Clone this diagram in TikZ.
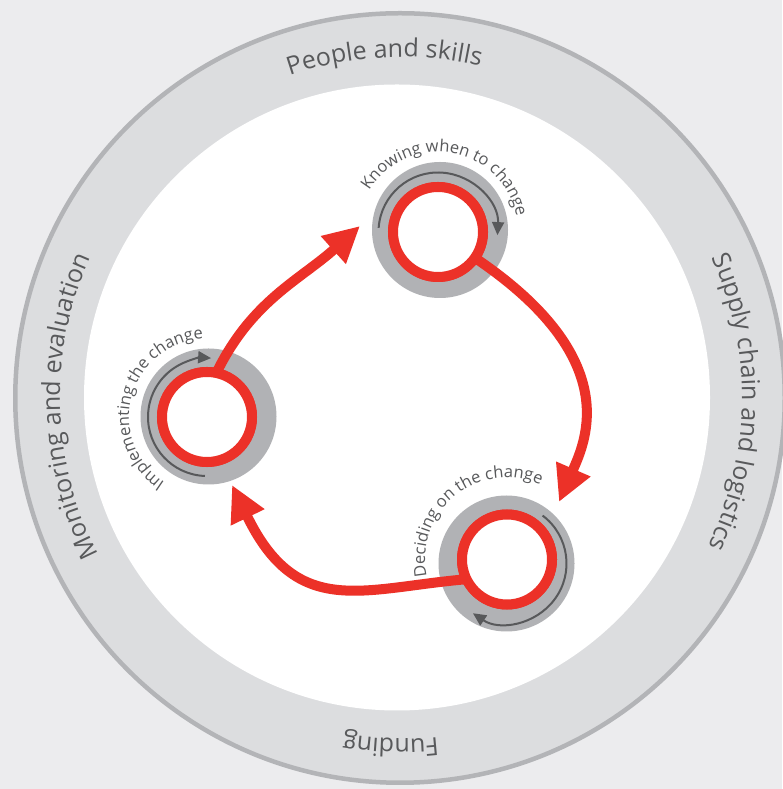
\documentclass[tikz,border=0pt]{standalone}
\usepackage{fontspec}
\setmainfont{Open Sans}
\usetikzlibrary{arrows.meta,decorations.text}
\definecolor{bg}{HTML}{ECECEE}
\definecolor{ringfill}{HTML}{DCDDDF}
\definecolor{ringedge}{HTML}{B3B4B7}
\definecolor{disk}{HTML}{B1B2B5}
\definecolor{darkarrow}{HTML}{58595B}
\definecolor{cyclered}{HTML}{EC3128}
\definecolor{txt}{HTML}{58595B}
\begin{document}
\begin{tikzpicture}[x=1pt,y=1pt,
  diskbg/.style={circle, fill=disk, minimum size=136pt, inner sep=0pt, outer sep=0pt},
  redring/.style={circle, draw=cyclered, line width=10pt, fill=white, minimum size=90pt, inner sep=0pt, outer sep=0pt},
  redflow/.style={draw=cyclered, line width=10pt, -{Triangle[length=36pt,width=35pt]}},
  grayflow/.style={draw=darkarrow, line width=2pt, -{Triangle[length=13pt,width=12pt]}},
  bigtext/.style={decorate, decoration={text along path, text align=center,
      text={|\fontsize{25}{30}\selectfont\color{txt}|#1}}},
  smalltext/.style={decorate, decoration={text along path, text align=center,
      text={|\fontsize{16.5}{19}\selectfont\color{txt}|#1}}}
]
\useasboundingbox (0,0) rectangle (782,789);
\fill[bg] (0,0) rectangle (782,789);

% centres
\coordinate (Oring) at (400,391);
\coordinate (Owhite) at (397,391.5);
\coordinate (Otext) at (401,391);

% outer ring
\fill[ringfill] (Oring) circle[radius=385];
\draw[ringedge, line width=4.5pt] (Oring) circle[radius=384.75];
\fill[white] (Owhite) circle[radius=313];

% ring labels
\path[bigtext={People and skills}] ([shift={(132.8:341)}]Otext) arc[start angle=132.8, end angle=52.8, radius=341];
\path[bigtext={Supply chain and logistics}] ([shift={(59.3:341)}]Otext) arc[start angle=59.3, end angle=-60.7, radius=341];
\path[bigtext={Funding}] ([shift={(298.3:341)}]Otext) arc[start angle=298.3, end angle=238.3, radius=341];
\path[bigtext={Monitoring and evaluation}] ([shift={(241.5:341)}]Otext) arc[start angle=241.5, end angle=121.5, radius=341];

% grey discs
\node[diskbg] (Ag) at (440,559) {};
\node[diskbg] (Bg) at (208.5,372.5) {};
\node[diskbg] (Cg) at (506.5,225.5) {};

% red ring nodes (positions)
\node[redring] (A) at (438,557) {};
\node[redring] (B) at (207,372) {};
\node[redring] (C) at (507,229.5) {};

% small grey arrows
\draw[grayflow] ([shift={(176:59.5)}]A.center) arc[start angle=176, end angle=-3, radius=59.5];
\draw[grayflow] ([shift={(268:59)}]B.center) arc[start angle=268, end angle=86, radius=59];
\draw[grayflow] ([shift={(53:60)}]Cg.center) arc[start angle=53, end angle=-124, radius=60];

% red connectors
\coordinate (tipC) at (559,287);
\coordinate (tipA) at (360,563);
\coordinate (tipB) at (232,304);
\draw[redflow] (A.-35) .. controls (624.6,430.1) and (585.5,347.9) .. (tipC);
\draw[redflow] (B.78) to[out=64, in=222, looseness=1] (tipA);
\draw[redflow] (C.206) .. controls (363.1,201) and (297.4,169) .. (tipB);

% redraw rings on top
\node[redring] at (A.center) {};
\node[redring] at (B.center) {};
\node[redring] at (C.center) {};

% small labels
\path[smalltext={Knowing when to change}] ([shift={(170:80)}]A.center) arc[start angle=170, end angle=-10, radius=80];
\path[smalltext={Implementing the change}] ([shift={(255:78)}]B.center) arc[start angle=255, end angle=75, radius=78];
\path[smalltext={Deciding on the change}] ([shift={(219:82)}]C.center) arc[start angle=219, end angle=39, radius=82];
\end{tikzpicture}
\end{document}
